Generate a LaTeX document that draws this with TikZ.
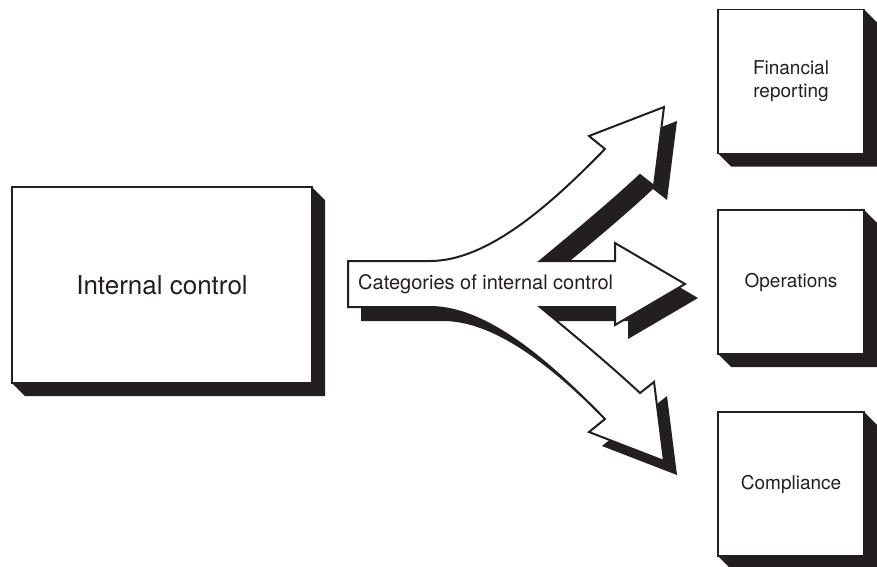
\documentclass[tikz,border=0pt]{standalone}
\usepackage{fontspec}
\setmainfont{TeX Gyre Heros}
\usetikzlibrary{calc}
\definecolor{ink}{HTML}{231F20}
\pgfdeclarelayer{bg}
\pgfsetlayers{bg,main}
\tikzset{
  facebox/.style={draw=ink, fill=white, line width=1.4pt, outer sep=0pt, inner sep=0pt},
  smallbox/.style={facebox, minimum width=146pt, minimum height=144pt, align=center,
     font=\fontsize{19}{23}\selectfont, text=ink},
  bigbox/.style={facebox, minimum width=300pt, minimum height=196pt,
     font=\fontsize{26}{30}\selectfont, text=ink},
  shadowfill/.style={fill=ink, draw=none},
  arrowbody/.style={draw=ink, fill=white, line width=2pt, miter limit=10},
}
\def\arrowpath{(348,261) -- (430,261) .. controls (490,261) and (555,200) .. (605,149)
  -- (589,136) -- (664,107) -- (654,186) -- (640,175)
  .. controls (610,203) and (575,232) .. (540,261)
  -- (615,261) -- (615,243) -- (685,284) -- (615,325) -- (615,307) -- (540,307)
  .. controls (575,336) and (610,365) .. (640,393)
  -- (654,382) -- (664,461) -- (589,432) -- (605,419)
  .. controls (555,368) and (490,307) .. (430,307) -- (348,307) -- cycle}
\begin{document}
\begin{tikzpicture}[x=1pt, y=-1pt]
\useasboundingbox (0,0) rectangle (877,566);
% boxes
\node[bigbox] (ic) at (162,285) {Internal control};
\node[smallbox] (fin) at (791,81.5) {Financial\\reporting};
\node[smallbox] (ops) at (791,282) {Operations};
\node[smallbox] (com) at (791,484) {Compliance};
\begin{pgfonlayer}{bg}
  \foreach \b in {ic,fin,ops,com}{
    \fill[shadowfill] (\b.north east) -- ++(13,13) -- ($(\b.south east)+(13,13)$)
      -- ($(\b.south west)+(13,13)$) -- (\b.south west) -- cycle;
  }
\end{pgfonlayer}
% arrow
\fill[shadowfill, shift={(13,14)}] \arrowpath;
\path[arrowbody] \arrowpath;
\node[anchor=west, inner sep=0pt, font=\fontsize{20}{24}\selectfont, text=ink] (cat) at (358,284) {Categories of internal control};
\end{tikzpicture}
\end{document}
